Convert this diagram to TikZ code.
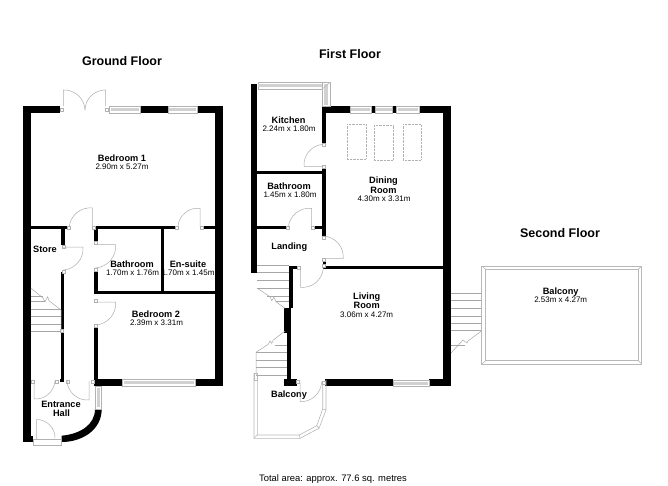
\documentclass[tikz,border=0pt]{standalone}
\usepackage{fontspec}
\setmainfont{Liberation Sans}
\begin{document}
\begin{tikzpicture}[x=1pt,y=-1pt]
\tikzset{wall/.style={fill=black},
leaf/.style={draw=black!32,line width=0.5pt},
frame/.style={draw=black!30,fill=white,line width=0.5pt},
band/.style={fill=black!18},
tread/.style={draw=black!35,line width=0.5pt},
deck/.style={draw=black!28,line width=0.6pt},
skylight/.style={draw=black!30,line width=0.4pt,densely dotted},
title/.style={font=\bfseries\fontsize{12.5}{14}\selectfont,inner sep=0pt},
room/.style={font=\bfseries\fontsize{9.2}{10}\selectfont,inner sep=0pt},
size/.style={font=\fontsize{8}{9}\selectfont,inner sep=0pt},
}
\useasboundingbox (0,0) rectangle (668,486);

\node[title] (groundtitle) at (122,61) {Ground Floor};
\node[title] (firsttitle) at (350,54) {First Floor};
\node[title] (secondtitle) at (560,233) {Second Floor};
\node[room] (bedroomone) at (122,158) {Bedroom 1};
\node[size] (bedroomonesize) at (122,167) {2.90m x 5.27m};
\node[room] (store) at (45,249.5) {Store};
\node[room] (bathroomg) at (132,264.5) {Bathroom};
\node[size] (bathroomgsize) at (132.5,273) {1.70m x 1.76m};
\node[room] (ensuite) at (188,264.7) {En-suite};
\node[size] (ensuitesize) at (188,273) {1.70m x 1.45m};
\node[room] (bedroomtwo) at (156,314) {Bedroom 2};
\node[size] (bedroomtwosize) at (156.5,323) {2.39m x 3.31m};
\node[room] (entrance) at (61,404) {Entrance};
\node[room] (hall) at (61.5,413) {Hall};
\node[room] (kitchen) at (288.5,120.5) {Kitchen};
\node[size] (kitchensize) at (289,129) {2.24m x 1.80m};
\node[room] (bathroomf) at (289,186.7) {Bathroom};
\node[size] (bathroomfsize) at (290,195) {1.45m x 1.80m};
\node[room] (dining) at (383.5,180.7) {Dining};
\node[room] (diningb) at (383.5,190) {Room};
\node[size] (diningsize) at (384,198.5) {4.30m x 3.31m};
\node[room] (landing) at (289.3,246.7) {Landing};
\node[room] (living) at (366.7,296.7) {Living};
\node[room] (livingb) at (366.7,305.7) {Room};
\node[size] (livingsize) at (366.7,314.5) {3.06m x 4.27m};
\node[room] (balconyf) at (289,395) {Balcony};
\node[room] (balconys) at (560.7,291.7) {Balcony};
\node[size] (balconyssize) at (560.7,300) {2.53m x 4.27m};
\node[size,font=\fontsize{9.4}{11}\selectfont] (total) at (333,479) {Total area: approx. 77.6 sq. metres};

\foreach \xa/\ya/\xb/\yb in {23.3/106/30.7/442, 23.3/106/60/113.3, 140/106/168/113.3, 197/106/222.7/113.3,
215/106/222.7/386, 30/226/67/229.3, 95/226/175/229.3, 202/226/215/229.3,
61/229/64.5/245, 61/272/64.3/382, 94.3/229/97.7/242, 94.3/270/97.7/294,
94.3/290.7/215/294, 94.3/327/97.7/386, 160.7/229/164/291,
94.3/379.3/122.7/386, 195/379.3/222.7/386, 23.3/435.7/33/442, 59.5/379/63/382,
250.7/84.3/257.3/273.3, 322/106/350/113.3, 371/106/375/113.3, 392.7/106/396.7/113.3, 419/106/450.7/113.3,
443.3/106/450.7/386, 321.7/106/325.7/145, 321.7/166.7/325.7/238, 322.5/261.7/325.7/267,
257/170.7/325/174.3, 257/226/286/229.3, 314/226/322/229.3, 322.5/266/450/269.3,
289.3/266/297.3/269.3, 289.3/266/292.7/308, 284.3/307.7/291/332.7, 287.3/332/290.7/380,
284.3/379.3/296.7/386, 325/379.3/393.3/386, 429/379.3/450.7/386} {
\fill[wall] (\xa,\ya) rectangle (\xb,\yb);
}
\fill[wall] (61.7,435.7) .. controls (80,434) and (95,425) .. (95,409) -- (101.7,409) .. controls (101.7,430) and (82,442) .. (61.7,442) -- cycle;

\foreach \xa/\ya/\xb/\yb/\xc/\yc/\xd/\yd in {109.5/106/140/113.3/110.5/108/139/111, 168/106/197/113.3/169/108/196/111,
122.7/379.5/195/386/124/381/194/384, 95/386/101.7/409/97/388/99.7/407,
350/106/371/113/351/108/370/111, 375/106/392.7/113/376/108/391.7/111, 396.7/106/419/113/397.7/108/418/111,
393.3/380/429/386/394.3/381.5/428/384.5, 258/82.3/322.3/89/258/84/322/87, 322.3/82.3/330/106.7/324/84/328/105} {
\draw[frame] (\xa,\ya) rectangle (\xb,\yb);
\fill[band] (\xc,\yc) rectangle (\xd,\yd);
}
\draw[frame] (322.3,89) -- (330,82.3);
\draw[frame] (33,439) rectangle (61,445);

\foreach \xa/\ya in {60/108.5, 105.5/108.5, 67/226, 92/226, 175/226, 200.5/226, 62/245, 62/270, 94.7/241, 94.7/268, 94.7/299, 94.7/324,
31/380, 55/380, 66/380, 91/380, 321.8/143.5, 321.8/165.5, 286/226, 311/226, 321.8/236, 321.8/258, 297/266, 322/264,
296.7/380, 322/381, 60/329} {
\draw[frame] (\xa,\ya) rectangle +(3,3);
}

\draw[leaf] (63.3,106) -- (63.3,90) to[bend left=45] (85,110);
\draw[leaf] (105.7,106) -- (105.7,90) to[bend right=45] (85,110);
\draw[leaf] (92.3,226.7) -- (92.3,208) to[bend right=45] (69.3,226.7);
\draw[leaf] (200,226.7) -- (200,208.3) to[bend right=45] (178,226);
\draw[leaf] (63,247) -- (83,247) to[bend left=45] (63.5,270);
\draw[leaf] (95.7,244.5) -- (115.7,244.5) to[bend left=45] (95.5,268);
\draw[leaf] (95.7,302) -- (115.7,302) to[bend left=45] (95.7,325);
\draw[leaf] (34,380) -- (34,399) to[bend right=45] (55,381);
\draw[leaf] (89,381) -- (89,400) to[bend left=45] (67,381);
\draw[leaf] (36.7,439) -- (36.7,419.5) to[bend left=45] (55,438);
\draw[leaf] (323.3,166.7) -- (304,166.7) to[bend left=45] (323,144.3);
\draw[leaf] (311.7,227.3) -- (311.7,208.3) to[bend right=45] (288.3,227.3);
\draw[leaf] (323.3,258.3) -- (343.3,258.3) to[bend right=45] (323.3,236);
\draw[leaf] (300.7,268) -- (300.7,287.3) to[bend right=45] (323.3,268.3);
\draw[leaf] (300,382.7) -- (300,401.7) to[bend right=45] (321.7,381.7);

\foreach \ya in {309.3,316.7,324,331.7} {
\draw[tread] (30.7,\ya) -- (61,\ya);
}
\draw[tread] (30.7,296) -- (43,296) (30.7,301.7) -- (45,301.7);
\draw[tread] (30.7,288) -- (43,298) -- (45,301.7) -- (47.7,296.7) -- (49,300.7) -- (61,310) -- (61,331.7);

\foreach \ya in {272.7,280.7,288.3} {
\draw[tread] (257.3,\ya) -- (289.3,\ya);
}
\draw[tread] (267,296) -- (289.3,296) (276,301.7) -- (289.3,301.7);
\draw[tread] (257.3,288.3) -- (270,296.7) -- (271.7,300.7) -- (274,297.3) -- (276,301.7) -- (285,308.3);
\draw[tread] (257.3,265) -- (289.3,265);

\foreach \ya in {352,360,367.5,375} {
\draw[tread] (256,\ya) -- (287,\ya);
}
\draw[tread] (275,345.7) -- (287,345.7);
\draw[tread] (256,375) -- (256,352.3) -- (268.3,344.3) -- (270,341) -- (271.7,343.3) -- (273.3,340) -- (285,331);

\foreach \ya in {293.3,300.7,308.3,316,323.3,330.7} {
\draw[tread] (451,\ya) -- (481.7,\ya);
}
\draw[tread] (451,345) -- (465,345);
\draw[tread] (481.7,293.3) -- (481.7,330.7) -- (468,341) -- (467,343) -- (463,340) -- (451,353);

\draw[deck] (254,373.5) -- (254,438.3) -- (300,438.3) -- (319,428.3) -- (326,410) -- (326,380);
\draw[deck] (257.3,380) -- (257.3,435) -- (299.3,435) -- (316.7,425.7) -- (322.7,409) -- (322.7,382);
\draw[deck] (254,373.5) -- (257.3,373.5) -- (257.3,380) -- (254,380) -- cycle;
\draw[deck] (254,438.3) -- (257.3,435) (300,438.3) -- (299.3,435) (319,428.3) -- (316.7,425.7) (326,410) -- (322.7,409);

\draw[deck] (481.7,266) rectangle (641.7,364);
\draw[deck] (485.7,269.3) rectangle (638.3,360.7);
\draw[deck] (481.7,266) -- (485.7,269.3) (641.7,266) -- (638.3,269.3) (481.7,364) -- (485.7,360.7) (641.7,364) -- (638.3,360.7);

\draw[skylight] (346.7,124.3) rectangle (365.7,159);
\draw[skylight] (374,125) rectangle (393.3,160);
\draw[skylight] (402.7,124.3) rectangle (420.7,160);
\end{tikzpicture}
\end{document}
